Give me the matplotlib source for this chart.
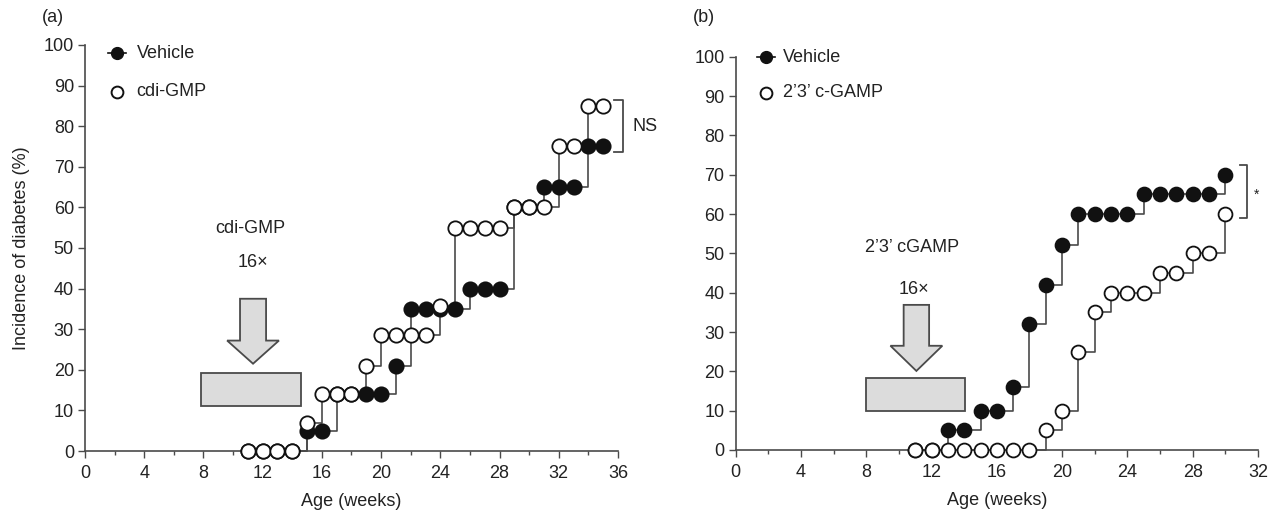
import matplotlib
matplotlib.use("Agg")
import matplotlib.pyplot as plt
from matplotlib.patches import Rectangle, FancyArrow
from matplotlib.lines import Line2D

plt.rcParams['font.family'] = ['Liberation Sans', 'DejaVu Sans']

# ---------------- Data ----------------
# Panel (a)
a_weeks = [11, 12, 13, 14, 15, 16, 17, 18, 19, 20, 21, 22, 23, 24, 25, 26, 27, 28, 29, 30, 31, 32, 33, 34, 35]
a_vehicle = [0, 0, 0, 0, 5, 5, 14, 14, 14, 14, 21, 35, 35, 35, 35, 40, 40, 40, 60, 60, 65, 65, 65, 75, 75]
a_cdigmp = [0, 0, 0, 0, 7, 14, 14, 14, 21, 28.6, 28.6, 28.6, 28.6, 35.7, 55, 55, 55, 55, 60, 60, 60, 75, 75, 85, 85]

# Panel (b)
b_weeks = [11, 12, 13, 14, 15, 16, 17, 18, 19, 20, 21, 22, 23, 24, 25, 26, 27, 28, 29, 30]
b_vehicle = [0, 0, 5, 5, 10, 10, 16, 32, 42, 52, 60, 60, 60, 60, 65, 65, 65, 65, 65, 70]
b_cgamp = [0, 0, 0, 0, 0, 0, 0, 0, 5, 10, 25, 35, 40, 40, 40, 45, 45, 50, 50, 60]

a_xticks = [0, 4, 8, 12, 16, 20, 24, 28, 32, 36]
b_xticks = [0, 4, 8, 12, 16, 20, 24, 28, 32]
yticks = [0, 10, 20, 30, 40, 50, 60, 70, 80, 90, 100]

LINE = '#4a4a4a'
TXT = '#222222'
BOXFILL = '#dcdcdc'
FS = 13

fig = plt.figure(figsize=(12.82, 5.13), dpi=100)
axa = fig.add_axes([85/1282, 1-451/513, 533/1282, 406/513])
axb = fig.add_axes([735.7/1282, 1-450/513, 522.3/1282, 393.3/513])


def style_axis(ax, xmax, xticks):
    ax.set_xlim(0, xmax)
    ax.set_ylim(0, 100)
    for s in ['top', 'right']:
        ax.spines[s].set_visible(False)
    for s in ['left', 'bottom']:
        ax.spines[s].set_color(LINE)
        ax.spines[s].set_linewidth(1.2)
    ax.set_xticks(xticks)
    ax.set_xticks([t + 2 for t in xticks[:-1]], minor=True)
    ax.set_yticks(yticks)
    ax.tick_params(axis='both', which='major', length=5, width=1.0, color=LINE,
                   labelsize=FS, labelcolor=TXT, pad=3)
    ax.tick_params(axis='x', which='major', pad=5)
    ax.tick_params(axis='x', which='minor', length=3, width=1.0, color=LINE)
    ax.set_xlabel('Age (weeks)', fontsize=FS, color=TXT, labelpad=8)


def draw_series(ax, weeks, vals, filled, ms):
    ax.plot(weeks, vals, drawstyle='steps-post', color=LINE, lw=1.2, zorder=2, clip_on=False)
    ax.plot(weeks, vals, linestyle='none', marker='o', ms=ms,
            mfc='#111111' if filled else 'white', mec='#111111', mew=1.3,
            zorder=3, clip_on=False)


def legend(ax, mx, tx, y1, y2, lab1, lab2, dx):
    tr = ax.transAxes
    ax.add_line(Line2D([mx - dx, mx + dx], [y1, y1], transform=tr, color='#111111', lw=1.2, clip_on=False))
    ax.plot([mx], [y1], 'o', ms=8.5, mfc='#111111', mec='#111111', transform=tr, clip_on=False)
    ax.plot([mx], [y2], 'o', ms=8.5, mfc='white', mec='#111111', mew=1.4, transform=tr, clip_on=False)
    ax.text(tx, y1, lab1, transform=tr, fontsize=FS, color=TXT, va='center', ha='left')
    ax.text(tx, y2, lab2, transform=tr, fontsize=FS, color=TXT, va='center', ha='left')


# ---------------- Panel (a) ----------------
style_axis(axa, 36, a_xticks)
axa.set_ylabel('Incidence of diabetes (%)', fontsize=FS, color=TXT, labelpad=10)
draw_series(axa, a_weeks, a_vehicle, True, 10.3)
draw_series(axa, a_weeks, a_cdigmp, False, 10.3)
legend(axa, 0.060, 0.097, 0.980, 0.885, 'Vehicle', 'cdi-GMP', 0.017)

axa.add_patch(Rectangle((7.85, 11.1), 14.6 - 7.85, 19.3 - 11.1, facecolor=BOXFILL,
                        edgecolor=LINE, lw=1.3, zorder=1))
axa.add_patch(FancyArrow(11.35, 37.5, 0, 21.5 - 37.5, width=1.76, head_width=3.5,
                         head_length=5.7, length_includes_head=True,
                         facecolor=BOXFILL, edgecolor=LINE, lw=1.3, zorder=1))
axa.text(11.15, 54.8, 'cdi-GMP', fontsize=FS, color=TXT, ha='center', va='center')
axa.text(11.35, 46.4, '16\u00d7', fontsize=FS, color=TXT, ha='center', va='center')

# NS bracket
axa.plot([35.7, 36.35, 36.35, 35.7], [86.4, 86.4, 73.6, 73.6], color=LINE, lw=1.3, clip_on=False)
axa.text(37.0, 80, 'NS', fontsize=FS, color=TXT, ha='left', va='center', clip_on=False)

# ---------------- Panel (b) ----------------
style_axis(axb, 32, b_xticks)
draw_series(axb, b_weeks, b_vehicle, True, 10.0)
draw_series(axb, b_weeks, b_cgamp, False, 10.0)
legend(axb, 0.058, 0.091, 0.998, 0.908, 'Vehicle', '2\u20193\u2019 c-GAMP', 0.017)

axb.add_patch(Rectangle((7.96, 9.9), 14.04 - 7.96, 18.2 - 9.9, facecolor=BOXFILL,
                        edgecolor=LINE, lw=1.3, zorder=1))
axb.add_patch(FancyArrow(11.07, 36.9, 0, 20.1 - 36.9, width=1.56, head_width=3.18,
                         head_length=6.4, length_includes_head=True,
                         facecolor=BOXFILL, edgecolor=LINE, lw=1.3, zorder=1))
axb.text(10.8, 51.4, '2\u20193\u2019 cGAMP', fontsize=FS, color=TXT, ha='center', va='center')
axb.text(10.9, 40.7, '16\u00d7', fontsize=FS, color=TXT, ha='center', va='center')

# * bracket
axb.plot([30.9, 31.3, 31.3, 30.9], [72.5, 72.5, 59.0, 59.0], color=LINE, lw=1.3, clip_on=False)
axb.text(31.75, 65.0, '*', fontsize=10, color=TXT, ha='left', va='center', clip_on=False)

# Panel labels
fig.text(42/1282, 1 - 18/513, '(a)', fontsize=FS, color=TXT, ha='left', va='center')
fig.text(693/1282, 1 - 18/513, '(b)', fontsize=FS, color=TXT, ha='left', va='center')

fig.savefig('out.png', dpi=100)
